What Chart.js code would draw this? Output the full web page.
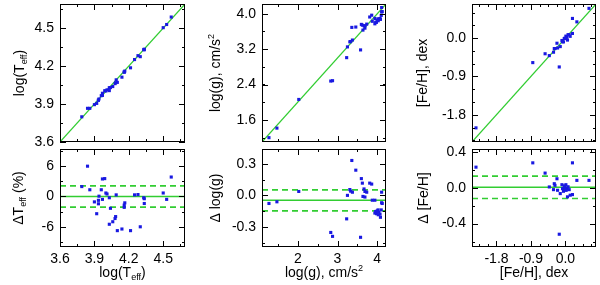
<!DOCTYPE html>
<html>
<head>
<meta charset="utf-8">
<script src="https://cdn.jsdelivr.net/npm/chart.js@4"></script>
<style>
  body { margin: 0; background: #fff; }
  #wrap { position: relative; width: 600px; height: 285px; }
  canvas { position: absolute; }
</style>
</head>
<body>
<div id="wrap">
  <canvas id="c1t" width="190" height="146" style="left:0;top:0"></canvas>
  <canvas id="c1b" width="190" height="140" style="left:0;top:145px"></canvas>
  <canvas id="c2t" width="190" height="146" style="left:200px;top:0"></canvas>
  <canvas id="c2b" width="190" height="140" style="left:200px;top:145px"></canvas>
  <canvas id="c3t" width="200" height="146" style="left:400px;top:0"></canvas>
  <canvas id="c3b" width="200" height="140" style="left:400px;top:145px"></canvas>
</div>
<script>
// log(Teff): x = reference, y = measured, delta in %
const teffX = [3.84,3.79,3.86,3.90,3.94,3.935,3.935,3.92,3.97,3.99,3.96,3.97,4.00,4.01,4.03,4.04,4.03,4.06,4.08,4.085,4.09,4.10,4.14,4.16,4.165,4.16,4.215,4.25,4.28,4.30,4.33,4.335,4.335,4.50,4.53,4.57];
const teffY = [3.866,3.799,3.866,3.895,3.940,3.932,3.929,3.905,3.985,4.005,3.966,3.968,4.003,4.012,4.029,4.030,4.006,4.038,4.061,4.068,4.091,4.071,4.112,4.153,4.160,4.151,4.186,4.251,4.282,4.274,4.329,4.333,4.329,4.503,4.528,4.587];
const teffDelta = [6.0,1.96,1.33,-1.07,0.06,-0.76,-1.45,-3.41,3.47,3.54,1.33,-0.57,0.69,0.5,-0.25,-2.34,-5.5,-5.0,-4.36,-3.98,0.32,-6.76,-6.44,-1.7,-1.26,-2.15,-6.76,0.32,0.38,-6.0,-0.25,-0.44,-1.39,0.69,-0.57,3.85];
const teffLines = [-2.1, 0, 2.1];

// log(g)
const loggX = [1.275,1.475,2.025,2.83,2.875,3.23,3.25,3.31,3.33,3.375,3.36,3.46,3.60,3.625,3.58,3.667,3.69,3.735,3.81,3.86,3.64,3.69,3.875,3.94,4.11,4.125,3.96,3.98,4.02,4.04,4.07,4.08,4.025,3.94,4.00,4.10,4.11];
const loggY = [1.198,1.414,2.062,2.478,2.486,3.007,3.25,3.365,3.37,3.405,3.691,3.699,3.759,3.741,3.182,3.728,3.727,3.765,3.926,3.967,3.63,3.674,3.829,3.894,4.14,4.048,3.807,3.806,3.882,3.881,3.892,3.872,3.841,3.772,3.853,3.962,4.04];
const loggDelta = [-0.077,-0.061,0.037,-0.352,-0.389,-0.223,0.0,0.055,0.040,0.030,0.331,0.239,0.159,0.116,-0.398,0.061,0.037,0.030,0.116,0.107,-0.010,-0.016,-0.046,-0.046,0.030,-0.077,-0.153,-0.174,-0.138,-0.159,-0.178,-0.208,-0.184,-0.168,-0.147,-0.138,-0.07];
const loggLines = [-0.147, -0.046, 0.052];

// [Fe/H]
const fehX = [-2.336,-0.852,-0.53,-0.42,-0.29,-0.272,-0.31,-0.22,-0.204,-0.134,-0.09,-0.075,-0.05,-0.013,0.013,0.039,0.055,0.10,0.125,0.185,0.185,0.30,0.617,-0.16,-0.03,0.02,0.0,0.07];
const fehY = [-2.108,-0.576,-0.368,-0.412,-0.246,-0.246,-0.332,-0.121,-0.233,-0.200,-0.057,-0.086,-0.090,-0.005,0.046,0.021,-0.047,0.078,0.041,0.108,0.461,0.381,0.698,-0.678,-0.01,-0.01,-0.01,0.08];
const fehDelta = [0.228,0.276,0.162,0.008,0.044,0.026,-0.022,0.099,-0.029,-0.066,0.033,-0.011,-0.040,0.008,0.033,-0.018,-0.102,-0.022,-0.084,-0.077,0.276,0.081,0.081,-0.518,0.02,-0.03,-0.01,0.01];
const fehLines = [-0.121, 0.005, 0.128];

// tick labels
const teffTicks = [3.6, 3.9, 4.2, 4.5];
const teffDeltaTicks = [-6, 0, 6];
const loggTicksY = [1.6, 2.4, 3.2, 4.0];
const loggTicksX = [2, 3, 4];
const loggDeltaTicks = [-0.3, 0.0, 0.3];
const fehTicks = [-1.8, -0.9, 0.0];
const fehDeltaTicks = [-0.4, 0.0, 0.4];

const BLUE = 'rgb(25,25,225)';
const GREEN = 'rgb(50,205,50)';
const FONT = "'Liberation Sans', Arial, sans-serif";
const FS = 14;

function drawRich(ctx, parts, cx, cy) {
  let w = 0;
  parts.forEach(p => {
    ctx.font = (p[1] ? FS * 0.65 : FS) + 'px ' + FONT;
    w += ctx.measureText(p[0]).width;
  });
  let x = cx - w / 2;
  ctx.textBaseline = 'middle';
  ctx.textAlign = 'left';
  parts.forEach(p => {
    ctx.font = (p[1] ? FS * 0.65 : FS) + 'px ' + FONT;
    const dy = p[1] === 'sub' ? 4 : p[1] === 'sup' ? -5 : 0;
    ctx.fillText(p[0], x, cy + dy);
    x += ctx.measureText(p[0]).width;
  });
}

// frame with inward ticks on all four sides, plus axis titles
const frame = {
  id: 'frame',
  afterDraw(chart, args, o) {
    const { ctx, chartArea: a } = chart;
    ctx.save();
    ctx.strokeStyle = '#000';
    ctx.fillStyle = '#000';
    ctx.lineWidth = 1;
    ctx.strokeRect(Math.round(a.left) + 0.5, Math.round(a.top) + 0.5, Math.round(a.right - a.left) - 1, Math.round(a.bottom - a.top) - 1);
    ['x', 'y'].forEach(id => {
      const s = chart.scales[id];
      const step = o[id + 'Minor'];
      const marks = [];
      for (let k = Math.ceil(s.min / step - 1e-6); k * step <= s.max + 1e-9; k++) marks.push([k * step, 3]);
      s.ticks.forEach(t => marks.push([t.value, 6]));
      ctx.beginPath();
      marks.forEach(([v, len]) => {
        const p = Math.round(s.getPixelForValue(v)) + 0.5;
        if (id === 'x') {
          ctx.moveTo(p, a.bottom); ctx.lineTo(p, a.bottom - len);
          ctx.moveTo(p, a.top); ctx.lineTo(p, a.top + len);
        } else {
          ctx.moveTo(a.left, p); ctx.lineTo(a.left + len, p);
          ctx.moveTo(a.right, p); ctx.lineTo(a.right - len, p);
        }
      });
      ctx.stroke();
    });
    ctx.save();
    ctx.translate(o.yTitleX, (a.top + a.bottom) / 2);
    ctx.rotate(-Math.PI / 2);
    drawRich(ctx, o.yTitle, 0, 0);
    ctx.restore();
    if (o.xTitle) drawRich(ctx, o.xTitle, (a.left + a.right) / 2, 128);
    ctx.restore();
  }
};

function panel(id, p) {
  const datasets = [{
    data: p.xs.map((x, i) => ({ x: x, y: p.ys[i] })),
    pointStyle: 'rect', pointRadius: 2.2, borderWidth: 0, backgroundColor: BLUE
  }];
  if (p.lines) {
    p.lines.forEach((v, i) => datasets.push({
      data: [{ x: p.xr[0], y: v }, { x: p.xr[1], y: v }],
      showLine: true, pointRadius: 0, borderColor: GREEN, borderWidth: 1.6,
      borderDash: i === 1 ? [] : [6, 4]
    }));
  } else {
    datasets.push({
      data: [{ x: p.xr[0], y: p.yr[0] }, { x: p.xr[1], y: p.yr[1] }],
      showLine: true, pointRadius: 0, borderColor: GREEN, borderWidth: 1.2
    });
  }
  const bottom = !!p.xTitle;
  new Chart(document.getElementById(id), {
    type: 'scatter',
    data: { datasets: datasets },
    options: {
      responsive: false,
      animation: false,
      devicePixelRatio: 1,
      layout: { padding: { left: 0, right: p.pr, top: bottom ? 0 : 3, bottom: bottom ? 0 : 1 } },
      plugins: {
        legend: { display: false },
        tooltip: { enabled: false },
        frame: { xMinor: p.xm, yMinor: p.ym, yTitle: p.yTitle, yTitleX: p.ytx, xTitle: p.xTitle }
      },
      scales: {
        x: {
          type: 'linear', min: p.xr[0], max: p.xr[1],
          grid: { display: false, drawTicks: false }, border: { display: false },
          afterBuildTicks: s => { s.ticks = p.xt.map(v => ({ value: v })); },
          afterFit: s => { s.height = bottom ? 38 : 0; s.paddingLeft = 0; s.paddingRight = 0; },
          ticks: { display: bottom, padding: 4, color: '#000', maxRotation: 0, autoSkip: false,
                   font: { family: FONT, size: FS }, callback: v => v.toFixed(p.xd) }
        },
        y: {
          type: 'linear', min: p.yr[0], max: p.yr[1],
          grid: { display: false, drawTicks: false }, border: { display: false },
          afterBuildTicks: s => { s.ticks = p.yt.map(v => ({ value: v })); },
          afterFit: s => { s.width = p.yw; s.paddingTop = 0; s.paddingBottom = 0; },
          ticks: { padding: 6, color: '#000', autoSkip: false,
                   font: { family: FONT, size: FS }, callback: v => v.toFixed(p.yd) }
        }
      }
    },
    plugins: [frame]
  });
}

const teffTitle = [['log(T'], ['eff', 'sub'], [')']];
const loggTitle = [['log(g), cm/s'], ['2', 'sup']];
const fehTitle = [['[Fe/H], dex']];

panel('c1t', { xs: teffX, ys: teffY, xr: [3.6, 4.69], yr: [3.6, 4.69], xt: teffTicks, yt: teffTicks,
  xm: 0.15, ym: 0.15, xd: 1, yd: 1, yw: 60, pr: 5, ytx: 20, yTitle: teffTitle });
panel('c1b', { xs: teffX, ys: teffDelta, lines: teffLines, xr: [3.6, 4.69], yr: [-10, 9.4], xt: teffTicks, yt: teffDeltaTicks,
  xm: 0.15, ym: 3, xd: 1, yd: 0, yw: 60, pr: 5, ytx: 19, yTitle: [['\u0394T'], ['eff', 'sub'], [' (%)']], xTitle: teffTitle });

panel('c2t', { xs: loggX, ys: loggY, xr: [1.1, 4.22], yr: [1.1, 4.22], xt: loggTicksX, yt: loggTicksY,
  xm: 0.5, ym: 0.4, xd: 0, yd: 1, yw: 62, pr: 3, ytx: 16, yTitle: loggTitle });
panel('c2b', { xs: loggX, ys: loggDelta, lines: loggLines, xr: [1.1, 4.22], yr: [-0.49, 0.44], xt: loggTicksX, yt: loggDeltaTicks,
  xm: 0.5, ym: 0.15, xd: 0, yd: 1, yw: 62, pr: 3, ytx: 16, yTitle: [['\u0394 log(g)']], xTitle: loggTitle });

panel('c3t', { xs: fehX, ys: fehY, xr: [-2.44, 0.8], yr: [-2.44, 0.8], xt: fehTicks, yt: fehTicks,
  xm: 0.225, ym: 0.3, xd: 1, yd: 1, yw: 72, pr: 3, ytx: 23, yTitle: fehTitle });
panel('c3b', { xs: fehX, ys: fehDelta, lines: fehLines, xr: [-2.44, 0.8], yr: [-0.66, 0.43], xt: fehTicks, yt: fehDeltaTicks,
  xm: 0.225, ym: 0.2, xd: 1, yd: 1, yw: 72, pr: 3, ytx: 24, yTitle: [['\u0394 [Fe/H]']], xTitle: fehTitle });
</script>
</body>
</html>
